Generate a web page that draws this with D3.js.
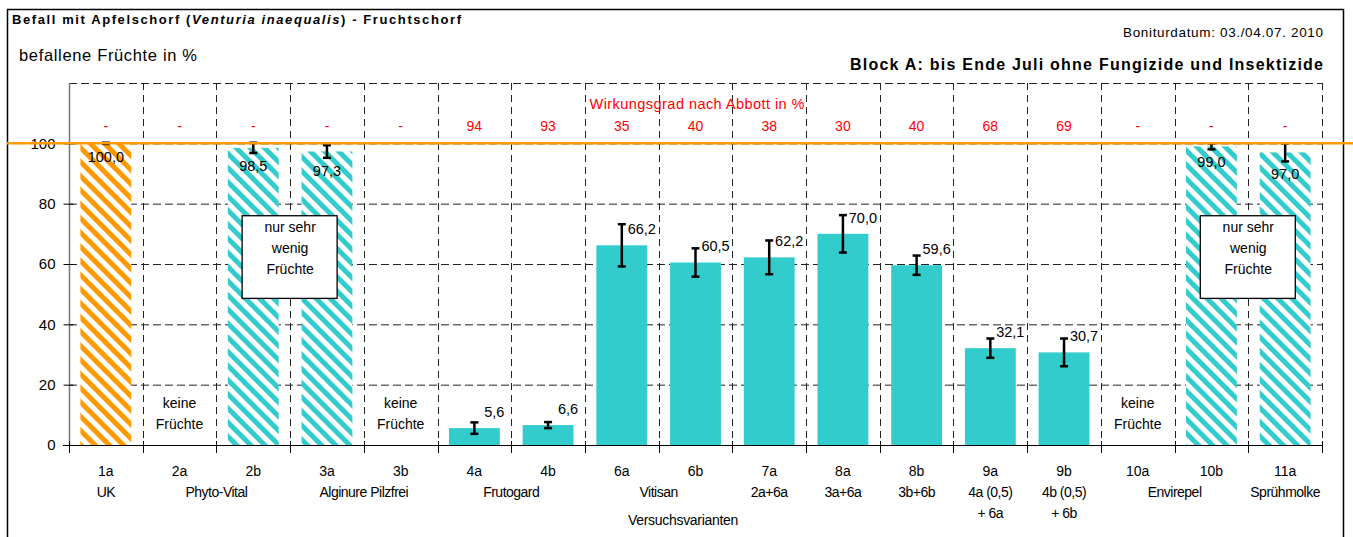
<!DOCTYPE html>
<html>
<head>
<meta charset="utf-8">
<script src="https://cdn.jsdelivr.net/npm/d3@7"></script>
<style>
  body { margin: 0; background: #fff; }
  svg { display: block; font-family: "Liberation Sans", Arial, sans-serif; }
</style>
</head>
<body>
<svg id="chart" width="1353" height="537"></svg>
<script>
// Versuchsvarianten und Befall (befallene Früchte in %)
const categories = ["1a", "2a", "2b", "3a", "3b", "4a", "4b", "6a", "6b", "7a", "8a", "8b", "9a", "9b", "10a", "10b", "11a"];
const values = [100.0, null, 98.5, 97.3, null, 5.6, 6.6, 66.2, 60.5, 62.2, 70.0, 59.6, 32.1, 30.7, null, 99.0, 97.0];
const errors = [0.2, null, 1.7, 2.1, null, 1.9, 1.0, 7.0, 4.7, 5.6, 6.2, 3.2, 3.2, 4.6, null, 1.0, 3.0];
const abbott = ["-", "-", "-", "-", "-", "94", "93", "35", "40", "38", "30", "40", "68", "69", "-", "-", "-"];

// which variants are control / had very few fruits / had no fruits
const control = ["1a"];
const fewFruits = ["2b", "3a", "10b", "11a"];
const noFruits = ["2a", "3b", "10a"];

// second label row (product names), spanning from..to
const groups = [
  { name: ["UK"], from: "1a", to: "1a" },
  { name: ["Phyto-Vital"], from: "2a", to: "2b" },
  { name: ["Alginure Pilzfrei"], from: "3a", to: "3b" },
  { name: ["Frutogard"], from: "4a", to: "4b" },
  { name: ["Vitisan"], from: "6a", to: "6b" },
  { name: ["2a+6a"], from: "7a", to: "7a" },
  { name: ["3a+6a"], from: "8a", to: "8a" },
  { name: ["3b+6b"], from: "8b", to: "8b" },
  { name: ["4a (0,5)", "+ 6a"], from: "9a", to: "9a" },
  { name: ["4b (0,5)", "+ 6b"], from: "9b", to: "9b" },
  { name: ["Envirepel"], from: "10a", to: "10b" },
  { name: ["Sprühmolke"], from: "11a", to: "11a" }
];
// "nur sehr wenig Früchte" boxes sit between these pairs
const fewBoxes = [["2b", "3a"], ["10b", "11a"]];

const yTicks = [0, 20, 40, 60, 80, 100];
const yGrid = [20, 40, 60, 80, 100, 120];

const teal = "#33cccc";
const orange = "#ff9900";

(function() {
  const svg = d3.select("#chart");
  const left = 69, right = 1322, top = 83, bottom = 445;

  const x = d3.scaleBand().domain(categories).range([left, right]).paddingInner(0.31).paddingOuter(0.155);
  const xb = d3.scaleBand().domain(categories).range([left, right]);
  const y = d3.scaleLinear().domain([0, 120]).range([bottom, top]);

  const defs = svg.append("defs");
  function hatch(idName, color) {
    const p = defs.append("pattern")
      .attr("id", idName)
      .attr("patternUnits", "userSpaceOnUse")
      .attr("width", 10).attr("height", 10)
      .attr("patternTransform", "rotate(-45)");
    p.append("rect").attr("width", 10).attr("height", 10).attr("fill", "#fff");
    p.append("rect").attr("width", 5).attr("height", 10).attr("fill", color);
  }
  hatch("hatch-orange", orange);
  hatch("hatch-teal", teal);

  // outer frame
  svg.append("rect")
    .attr("x", 7.5).attr("y", 9.5).attr("width", 1336).attr("height", 540)
    .attr("fill", "none").attr("stroke", "#000").attr("stroke-width", 1.5);

  // titles (Excel draws them wider, so stretch to the measured width)
  const title = svg.append("text").attr("x", 12).attr("y", 24)
    .attr("font-size", 13).attr("font-weight", "bold")
    .attr("textLength", 449).attr("lengthAdjust", "spacing");
  title.append("tspan").text("Befall mit Apfelschorf (");
  title.append("tspan").attr("font-style", "italic").text("Venturia inaequalis");
  title.append("tspan").text(") - Fruchtschorf");

  svg.append("text").attr("x", 19).attr("y", 61).attr("font-size", 16.5)
    .attr("textLength", 178).attr("lengthAdjust", "spacing").text("befallene Früchte in %");
  svg.append("text").attr("x", 1323).attr("y", 37).attr("font-size", 13.5).attr("text-anchor", "end")
    .attr("textLength", 200).attr("lengthAdjust", "spacing").text("Boniturdatum: 03./04.07. 2010");
  svg.append("text").attr("x", 1323).attr("y", 70).attr("font-size", 16).attr("font-weight", "bold")
    .attr("text-anchor", "end").attr("textLength", 473).attr("lengthAdjust", "spacing")
    .text("Block A: bis Ende Juli ohne Fungizide und Insektizide");

  // horizontal grid
  svg.append("g").selectAll("line").data(yGrid).join("line")
    .attr("x1", left).attr("x2", right)
    .attr("y1", d => y(d) + 0.5).attr("y2", d => y(d) + 0.5)
    .attr("stroke", "#222").attr("stroke-width", 1).attr("stroke-dasharray", "8,4");

  // vertical grid at category boundaries
  const bounds = categories.slice(1).map(c => xb(c)).concat([right]);
  svg.append("g").selectAll("line").data(bounds).join("line")
    .attr("x1", d => Math.round(d) + 0.5).attr("x2", d => Math.round(d) + 0.5)
    .attr("y1", top).attr("y2", bottom)
    .attr("stroke", "#222").attr("stroke-width", 1).attr("stroke-dasharray", "7,5");

  // bars
  const bars = categories.map((c, i) => ({ c: c, v: values[i], e: errors[i] })).filter(d => d.v != null);
  svg.append("g").selectAll("rect").data(bars).join("rect")
    .attr("x", d => x(d.c)).attr("width", x.bandwidth())
    .attr("y", d => y(d.v)).attr("height", d => y(0) - y(d.v))
    .attr("fill", d => control.includes(d.c) ? "url(#hatch-orange)"
      : fewFruits.includes(d.c) ? "url(#hatch-teal)" : teal);

  // axes
  const yAxis = d3.axisLeft(y).tickValues(yTicks).tickSize(0).tickPadding(14).tickFormat(d3.format("d"));
  const gy = svg.append("g").attr("transform", `translate(${left + 0.5},0)`).call(yAxis);
  gy.select(".domain").attr("d", `M0,${top}V${bottom}`).attr("stroke", "#777").attr("stroke-width", 1.5);
  gy.selectAll(".tick text").attr("font-size", 15).attr("fill", "#000").attr("font-family", "Liberation Sans, Arial, sans-serif");
  gy.selectAll(".tick").append("line").attr("x1", -6).attr("x2", 4).attr("stroke", "#000");

  const xAxisLine = svg.append("g");
  xAxisLine.append("line").attr("x1", left - 6).attr("x2", right).attr("y1", bottom + 0.5).attr("y2", bottom + 0.5)
    .attr("stroke", "#000").attr("stroke-width", 1.2);
  xAxisLine.selectAll("line.tk").data([left].concat(bounds)).join("line").attr("class", "tk")
    .attr("x1", d => Math.round(d) + 0.5).attr("x2", d => Math.round(d) + 0.5)
    .attr("y1", bottom - 4).attr("y2", bottom + 8).attr("stroke", "#000");

  // category labels
  svg.append("g").selectAll("text").data(categories).join("text")
    .attr("x", d => xb(d) + xb.bandwidth() / 2).attr("y", 476)
    .attr("text-anchor", "middle").attr("font-size", 14).text(d => d);

  const gl = svg.append("g").selectAll("text").data(groups).join("text")
    .attr("x", d => (xb(d.from) + xb(d.to) + xb.bandwidth()) / 2).attr("y", 497)
    .attr("text-anchor", "middle").attr("font-size", 14).attr("letter-spacing", -0.5);
  gl.selectAll("tspan").data(d => d.name).join("tspan")
    .attr("x", function() { return d3.select(this.parentNode).attr("x"); })
    .attr("dy", (d, i) => i ? 21 : 0).text(d => d);

  svg.append("text").attr("x", 683).attr("y", 525).attr("text-anchor", "middle").attr("font-size", 14)
    .attr("letter-spacing", -0.3).text("Versuchsvarianten");

  // keine Früchte
  const kf = svg.append("g").selectAll("text").data(noFruits).join("text")
    .attr("x", d => xb(d) + xb.bandwidth() / 2).attr("y", 408)
    .attr("text-anchor", "middle").attr("font-size", 14);
  kf.append("tspan").attr("x", d => xb(d) + xb.bandwidth() / 2).text("keine");
  kf.append("tspan").attr("x", d => xb(d) + xb.bandwidth() / 2).attr("dy", 21).text("Früchte");

  // nur sehr wenig Früchte boxes
  const fb = svg.append("g").selectAll("g").data(fewBoxes).join("g")
    .attr("transform", d => `translate(${xb(d[1])},0)`);
  fb.append("rect").attr("x", -48).attr("y", y(76)).attr("width", 95).attr("height", y(48.6) - y(76))
    .attr("fill", "#fff").attr("stroke", "#000").attr("stroke-width", 1.3);
  ["nur sehr", "wenig", "Früchte"].forEach((t, i) => {
    fb.append("text").attr("x", 0).attr("y", y(76) + 16 + i * 21).attr("text-anchor", "middle")
      .attr("font-size", 14).text(t);
  });

  // error bars
  const eb = svg.append("g").selectAll("g").data(bars).join("g")
    .attr("transform", d => `translate(${x(d.c) + x.bandwidth() / 2},0)`)
    .attr("stroke", "#000").attr("stroke-width", 2.5);
  eb.append("line").attr("y1", d => y(d.v + d.e)).attr("y2", d => y(d.v - d.e));
  eb.append("line").attr("x1", -4).attr("x2", 4).attr("y1", d => y(d.v + d.e)).attr("y2", d => y(d.v + d.e));
  eb.append("line").attr("x1", -4).attr("x2", 4).attr("y1", d => y(d.v - d.e)).attr("y2", d => y(d.v - d.e));

  // value labels
  const fmt = v => d3.format(".1f")(v).replace(".", ",");
  svg.append("g").selectAll("text").data(bars).join("text")
    .attr("font-size", 14.5)
    .attr("x", d => x(d.c) + x.bandwidth() / 2 + (d.v < 90 ? 20 : 0))
    .attr("y", d => d.v < 90 ? y(d.v) - 11 : y(d.v - d.e) + 18)
    .attr("text-anchor", "middle").text(d => fmt(d.v));

  // 100 % reference line
  svg.append("line").attr("x1", 7).attr("x2", 1353).attr("y1", y(100)).attr("y2", y(100))
    .attr("stroke", orange).attr("stroke-width", 2.5);

  // Wirkungsgrad nach Abbott
  svg.append("text").attr("x", 697).attr("y", 109).attr("text-anchor", "middle").attr("font-size", 14.5)
    .attr("textLength", 215).attr("lengthAdjust", "spacing")
    .attr("fill", "#ff0000").text("Wirkungsgrad nach Abbott in %");
  svg.append("g").selectAll("text").data(abbott).join("text")
    .attr("x", (d, i) => xb(categories[i]) + xb.bandwidth() / 2).attr("y", 131)
    .attr("text-anchor", "middle").attr("font-size", 14).attr("fill", "#ff0000").text(d => d);
})();
</script>
</body>
</html>
